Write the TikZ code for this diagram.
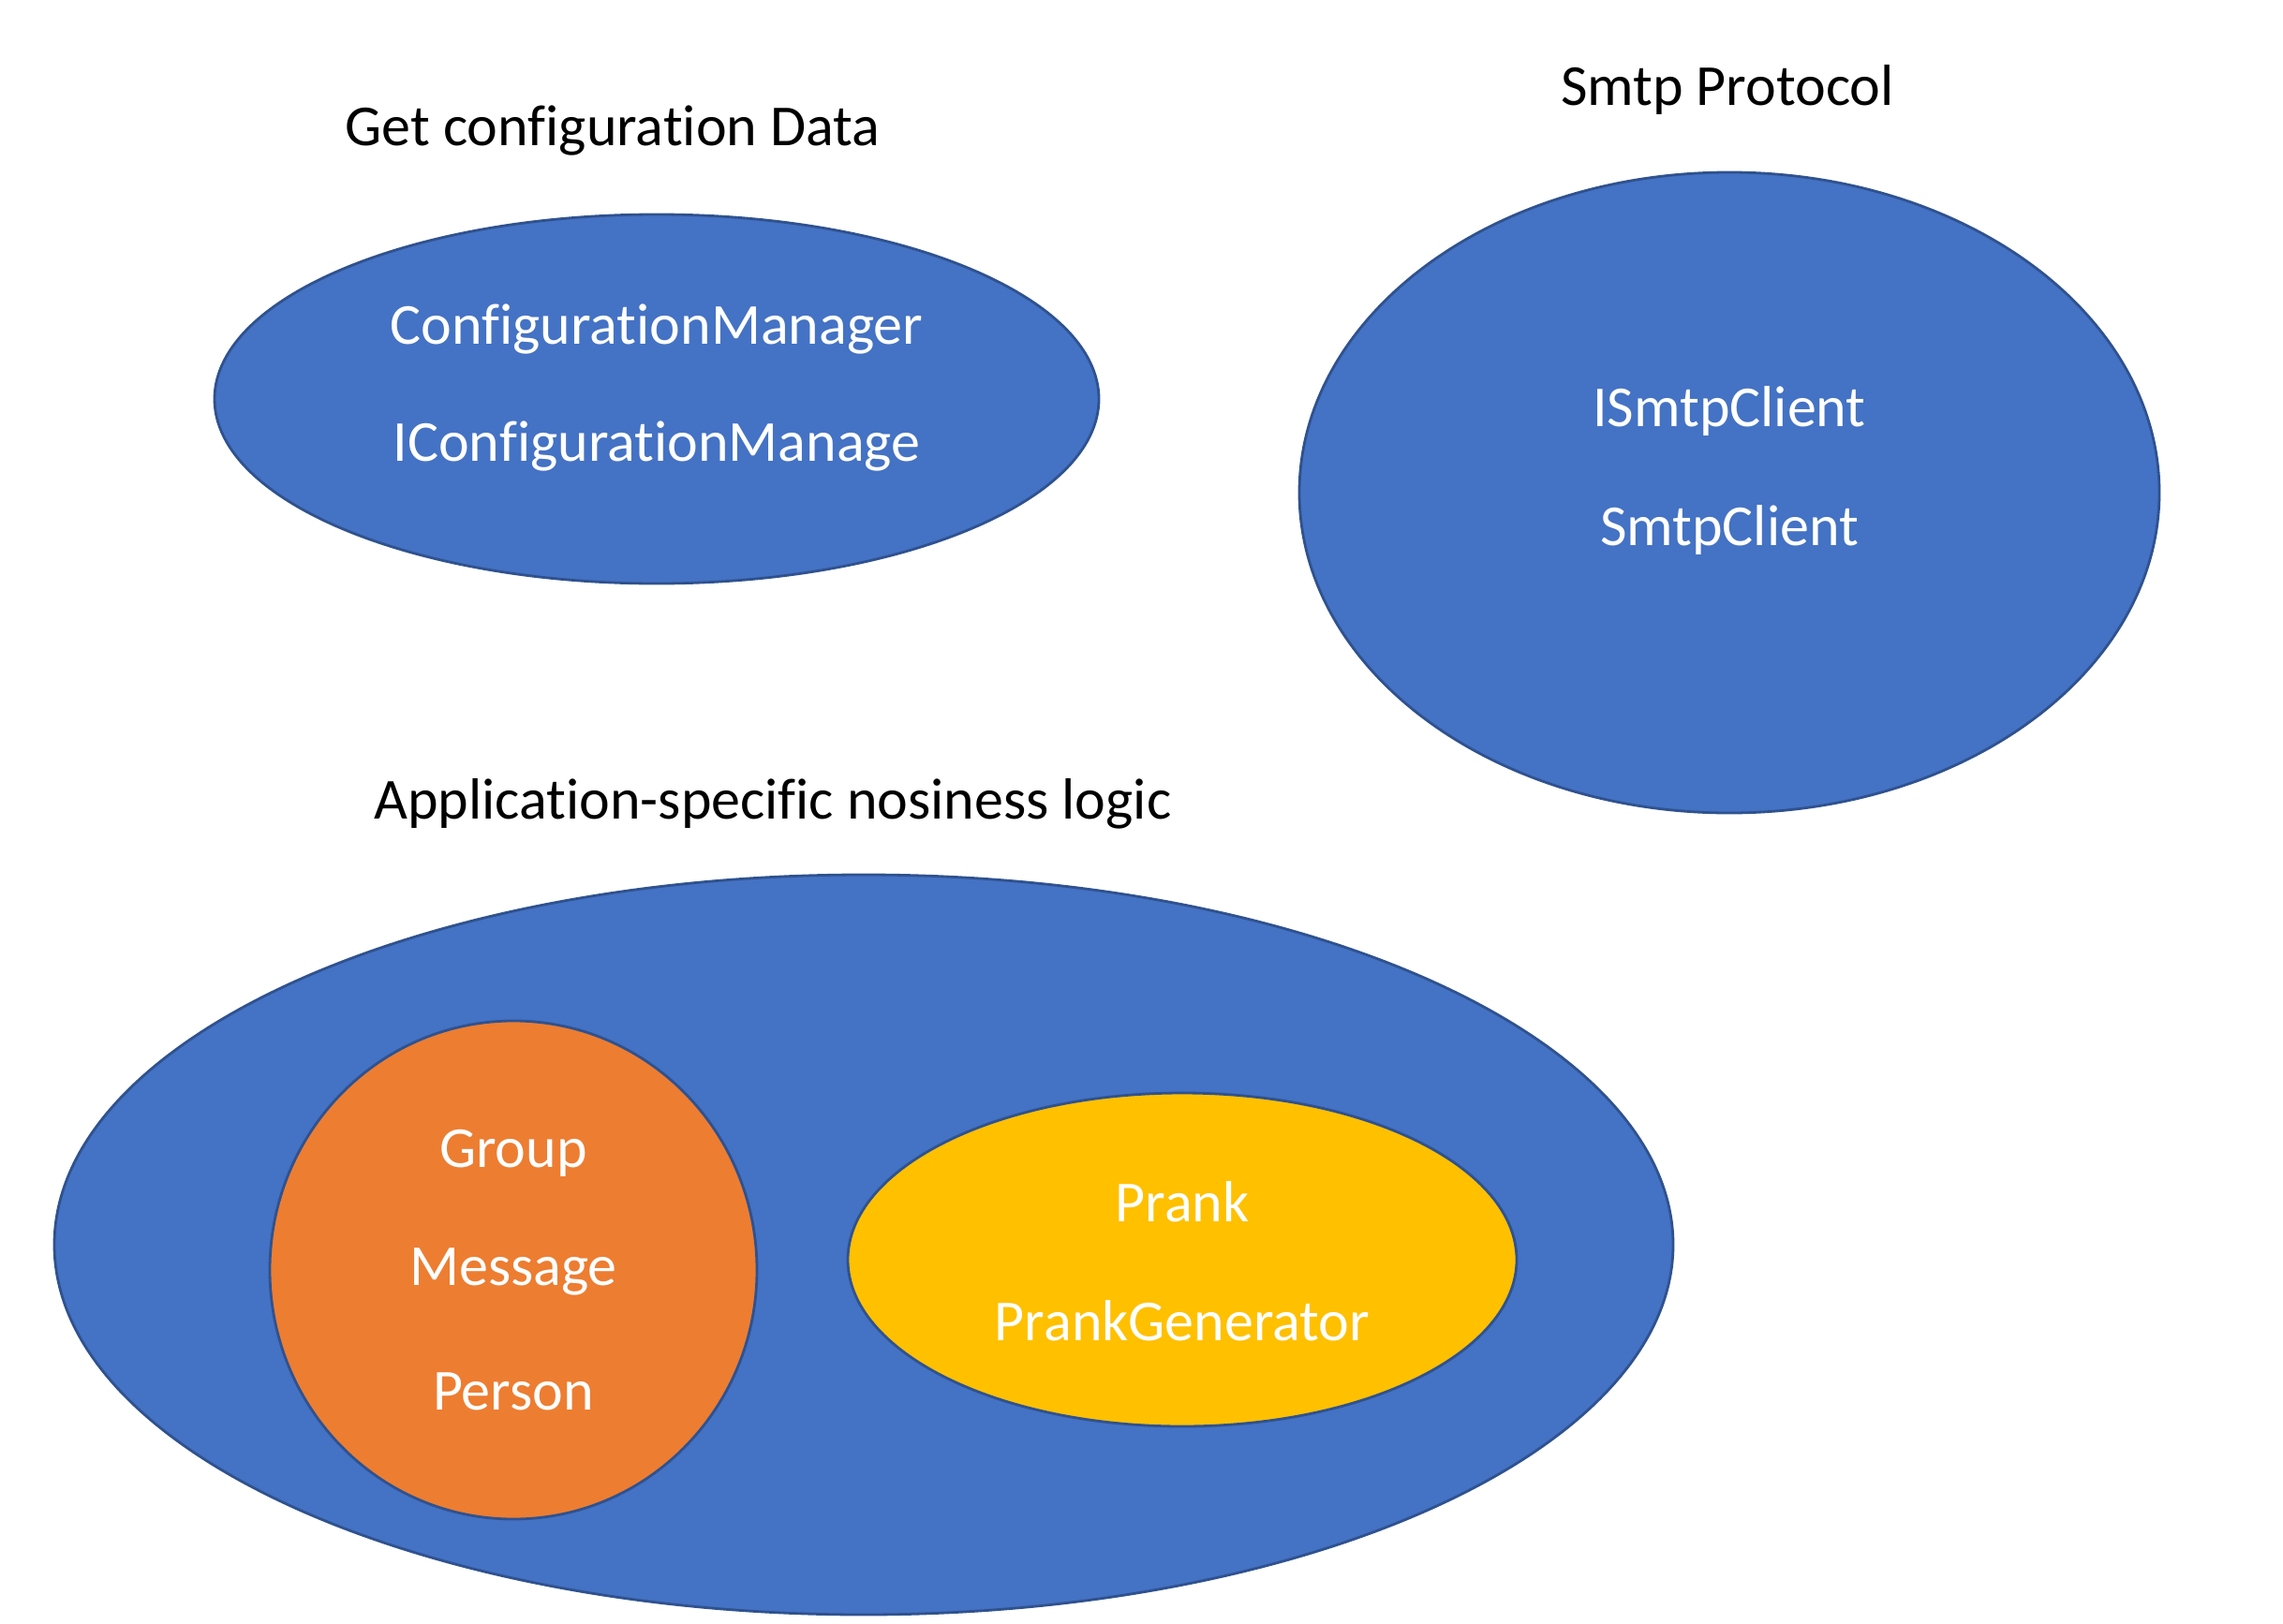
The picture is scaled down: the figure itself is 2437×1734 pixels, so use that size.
\documentclass[tikz,border=0pt]{standalone}
\usepackage{fontspec}
\setmainfont{Carlito}[Ligatures={NoCommon,NoContextual,NoRare}]
\usetikzlibrary{shapes.geometric}
\definecolor{fillblue}{HTML}{4472C4}
\definecolor{edgeblue}{HTML}{2F528F}
\definecolor{fillorange}{HTML}{ED7D31}
\definecolor{fillyellow}{HTML}{FFC000}
\tikzset{
  blob/.style={ellipse, draw=edgeblue, line width=1.4pt, inner sep=0pt},
  bluebl/.style={blob, fill=fillblue},
  orangebl/.style={blob, fill=fillorange},
  yellowbl/.style={blob, fill=fillyellow},
  intext/.style={text=white, font=\fontsize{31}{37}\selectfont, inner sep=0pt},
  titletext/.style={text=black, font=\fontsize{31}{37}\selectfont, inner sep=0pt},
}
\begin{document}
\begin{tikzpicture}[x=0.5pt, y=-0.5pt]
\useasboundingbox (0,0) rectangle (2437,1734);
% top left
\node[titletext] (t1) at (654,140) {Get configuration Data};
\node[bluebl, minimum width=472pt, minimum height=197pt] (e1) at (701,426) {};
\node[intext] (cm) at (701,351) {ConfigurationManager};
\node[intext] (icm) at (701,476) {IConfigurationManage};
% top right
\node[titletext] (t2) at (1844,96) {Smtp Protocol};
\node[bluebl, minimum width=459pt, minimum height=342pt] (e2) at (1846,526) {};
\node[intext] (isc) at (1846,439) {ISmtpClient};
\node[intext] (sc) at (1846,566) {SmtpClient};
% bottom
\node[titletext] (t3) at (825,858) {Application-specific nosiness logic};
\node[bluebl, minimum width=864pt, minimum height=395pt] (e3) at (922,1329) {};
\node[orangebl, minimum width=260pt, minimum height=266pt] (e4) at (548,1356) {};
\node[intext] (grp) at (548,1231) {Group};
\node[intext] (msg) at (548,1358) {Message};
\node[intext] (per) at (548,1486) {Person};
\node[yellowbl, minimum width=357pt, minimum height=178pt] (e5) at (1262,1345) {};
\node[intext] (prk) at (1262,1283) {Prank};
\node[intext] (pg) at (1262,1410) {PrankGenerator};
\end{tikzpicture}
\end{document}
